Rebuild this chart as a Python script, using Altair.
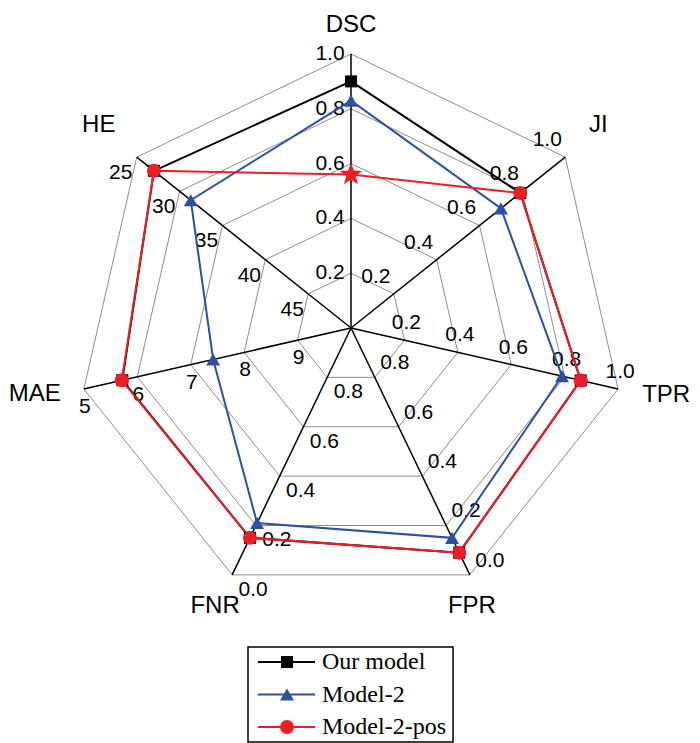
import math
import altair as alt
import pandas as pd

# ---------------- data ----------------
axes = ["DSC", "JI", "TPR", "FPR", "FNR", "MAE", "HE"]
outer_vals = [1.0, 1.0, 1.0, 0.0, 0.0, 5, 25]     # value at the outer ring
center_vals = [0.0, 0.0, 0.0, 1.0, 1.0, 10, 50]   # value at the centre
tick_labels = [
    ["0.2", "0.4", "0.6", "0.8", "1.0"],
    ["0.2", "0.4", "0.6", "0.8", "1.0"],
    ["0.2", "0.4", "0.6", "0.8", "1.0"],
    ["0.8", "0.6", "0.4", "0.2", "0.0"],
    ["0.8", "0.6", "0.4", "0.2", "0.0"],
    ["9", "8", "7", "6", "5"],
    ["45", "40", "35", "30", "25"],
]
series = ["Our model", "Model-2", "Model-2-pos"]
our_model = [0.90, 0.79, 0.86, 0.09, 0.15, 5.72, 27.0]
model_2 = [0.83, 0.70, 0.79, 0.15, 0.21, 7.42, 31.3]
model_2_pos = [0.56, 0.79, 0.86, 0.09, 0.15, 5.71, 27.0]

# ---------------- layout / style ----------------
W, H = 684, 735
CX, CY = 343, 320
R = 274.0
N = len(axes)
colors = {"Our model": "#000000", "Model-2": "#2E4FA3", "Model-2-pos": "#EE1C25"}
pts = []
for j in range(10):
    a = math.radians(-90 + j * 36)
    r = 1.0 if j % 2 == 0 else 0.42
    pts.append(f"{r*math.cos(a):.4f},{r*math.sin(a):.4f}")
STAR = "M" + "L".join(pts) + "Z"

tick_off = [(-21, 0), (-18, -17), (2, -17), (20, -14), (21, 15), (1, 18), (-16, 16)]
label_off = [(0, -29), (33, -32), (48, 6), (2, 31), (-17, 31), (-49, 5), (-38, -32)]


def theta(i):
    return math.radians(90 - i * 360.0 / N)


def polar(frac, i):
    return frac * math.cos(theta(i)), frac * math.sin(theta(i))


def px(dx, dy):
    return dx / R, -dy / R


def u(pxx):
    return (pxx - CX) / R


def v(pyy):
    return (CY - pyy) / R


xs = alt.Scale(domain=[u(0), u(W)], nice=False, zero=False)
ys = alt.Scale(domain=[v(H), v(0)], nice=False, zero=False)
X = lambda f: alt.X(f, type="quantitative", scale=xs, axis=None)
Y = lambda f: alt.Y(f, type="quantitative", scale=ys, axis=None)
X2 = lambda f: alt.X2(f)
Y2 = lambda f: alt.Y2(f)

# grid rings
ring_rows = []
for k in range(1, 6):
    f = k / 5
    for i in range(N):
        x1, y1 = polar(f, i)
        x2, y2 = polar(f, (i + 1) % N)
        ring_rows.append({"x": x1, "y": y1, "x2": x2, "y2": y2})
rings = alt.Chart(pd.DataFrame(ring_rows)).mark_rule(color="#8c8c8c", strokeWidth=1).encode(
    x=X("x"), y=Y("y"), x2=X2("x2"), y2=Y2("y2"))

# spokes
spoke_rows = []
for i in range(N):
    x1, y1 = polar(1.0, i)
    spoke_rows.append({"x": 0.0, "y": 0.0, "x2": x1, "y2": y1})
spokes = alt.Chart(pd.DataFrame(spoke_rows)).mark_rule(color="#000000", strokeWidth=1.5).encode(
    x=X("x"), y=Y("y"), x2=X2("x2"), y2=Y2("y2"))

# tick labels
tick_rows = []
for i in range(N):
    ox, oy = px(*tick_off[i])
    for k, lab in enumerate(tick_labels[i]):
        x1, y1 = polar((k + 1) / 5, i)
        tick_rows.append({"x": x1 + ox, "y": y1 + oy, "t": lab})
ticks = alt.Chart(pd.DataFrame(tick_rows)).mark_text(
    font="Liberation Sans", fontSize=21, color="#000000", align="center", baseline="middle"
).encode(x=X("x"), y=Y("y"), text="t:N")

# axis labels
lab_rows = []
for i in range(N):
    ox, oy = px(*label_off[i])
    x1, y1 = polar(1.0, i)
    lab_rows.append({"x": x1 + ox, "y": y1 + oy, "t": axes[i]})
labels = alt.Chart(pd.DataFrame(lab_rows)).mark_text(
    font="Liberation Sans", fontSize=24, color="#000000", align="center", baseline="middle"
).encode(x=X("x"), y=Y("y"), text="t:N")


def frac_of(val, i):
    return (val - center_vals[i]) / (outer_vals[i] - center_vals[i])


def series_df(vals, closed):
    rows = []
    idx = list(range(N)) + ([0] if closed else [])
    for o, i in enumerate(idx):
        x1, y1 = polar(frac_of(vals[i], i), i)
        rows.append({"x": x1, "y": y1, "order": o, "axis": axes[i]})
    return pd.DataFrame(rows)


layers = [rings, spokes, ticks, labels]
specs = [
    ("Our model", our_model, "square", 144),
    ("Model-2", model_2, "triangle-up", 196),
    ("Model-2-pos", model_2_pos, "circle", 196),
]
for name, vals, shape, size in specs:
    c = colors[name]
    layers.append(alt.Chart(series_df(vals, True)).mark_line(color=c, strokeWidth=2).encode(
        x=X("x"), y=Y("y"), order="order:Q"))
for name, vals, shape, size in specs:
    c = colors[name]
    df = series_df(vals, False)
    if name == "Model-2-pos":
        layers.append(alt.Chart(df[df["axis"] != "DSC"]).mark_point(
            shape=shape, size=size, filled=True, color=c, opacity=1).encode(x=X("x"), y=Y("y")))
        layers.append(alt.Chart(df[df["axis"] == "DSC"]).mark_point(
            shape=STAR, size=560, filled=True, color=c, opacity=1).encode(x=X("x"), y=Y("y")))
    else:
        layers.append(alt.Chart(df).mark_point(
            shape=shape, size=size, filled=True, color=c, opacity=1).encode(x=X("x"), y=Y("y")))

# legend (drawn manually)
LX0, LX1, LY0, LY1 = 240, 445, 639, 734
layers.append(alt.Chart(pd.DataFrame([{"x": u(LX0), "x2": u(LX1), "y": v(LY0), "y2": v(LY1)}])).mark_rect(
    fill="#ffffff", stroke="#000000", strokeWidth=1.5).encode(x=X("x"), x2=X2("x2"), y=Y("y"), y2=Y2("y2")))
for k, (name, vals, shape, size) in enumerate(specs):
    yy = 654 + k * 32.5
    c = colors[name]
    ldf = pd.DataFrame([{"x": u(250), "x2": u(307), "y": v(yy), "y2": v(yy), "xm": u(279), "xt": u(314), "t": name}])
    layers.append(alt.Chart(ldf).mark_rule(color=c, strokeWidth=2).encode(
        x=X("x"), x2=X2("x2"), y=Y("y"), y2=Y2("y2")))
    layers.append(alt.Chart(ldf).mark_point(shape=shape, size=size, filled=True, color=c, opacity=1).encode(
        x=X("xm"), y=Y("y")))
    layers.append(alt.Chart(ldf).mark_text(font="Liberation Serif", fontSize=24, color="#000000",
                                           align="left", baseline="middle").encode(
        x=X("xt"), y=Y("y"), text="t:N"))

chart = alt.layer(*layers).properties(
    width=W, height=H, autosize=alt.AutoSizeParams(type="none"), padding=0, background="#ffffff"
).configure_view(stroke=None)

chart.save("out.html", embed_options={"renderer": "svg", "actions": False})
